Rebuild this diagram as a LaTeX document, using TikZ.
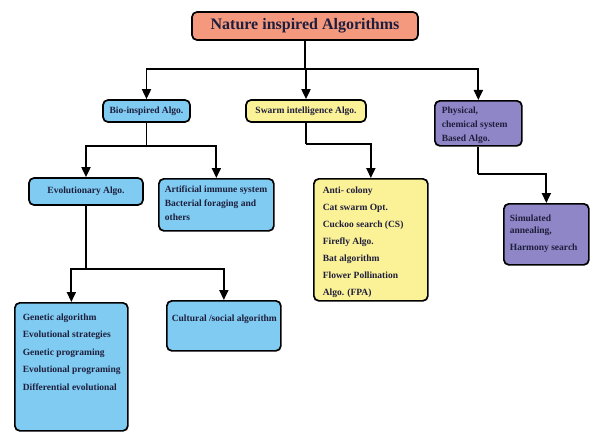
\documentclass[tikz,border=0pt]{standalone}
\usepackage{fontspec}
\setmainfont{Liberation Serif}
\usetikzlibrary{arrows.meta}
\definecolor{csalmon}{HTML}{F5997E}
\definecolor{cblue}{HTML}{7FCBF1}
\definecolor{cyellow}{HTML}{FBF197}
\definecolor{cpurple}{HTML}{8E86C6}
\definecolor{ctext}{HTML}{1E1E3C}
% #1 width, #2 height, #3 top gap, #4 left pad, #5 baselineskip, #6 text
\newcommand\lbox[6]{\begin{minipage}[c][#2pt][t]{#1pt}\fontsize{9.5}{#5}\selectfont\raggedright\leftskip=#4pt\relax\vspace*{#3pt}#6\end{minipage}}
\tikzset{
  box/.style={draw=black, line width=1.7pt, rounded corners=5pt, inner sep=0pt, text=ctext, font=\bfseries},
  cbox/.style={box, anchor=center, font=\bfseries\fontsize{9.5}{11}\selectfont},
  lbx/.style={box, anchor=north west},
  conn/.style={draw=black, line width=1.8pt},
  arr/.style={conn, -{Triangle[length=10pt,width=9pt]}}
}
\begin{document}
\begin{tikzpicture}[x=1pt,y=-1pt]
\useasboundingbox (0,0) rectangle (593,433);
\node[box, fill=csalmon, minimum width=226pt, minimum height=28pt, font=\bfseries\fontsize{16}{18}\selectfont] (top) at (305,26) {Nature inspired Algorithms};
\node[cbox, fill=cblue, minimum width=87pt, minimum height=22pt] (bio) at (146.5,111) {Bio-inspired Algo.};
\node[cbox, fill=cyellow, minimum width=120pt, minimum height=22pt] (swarm) at (306,111) {Swarm intelligence Algo.};
\node[lbx, fill=cpurple] (phys) at (434,100) {\lbox{87}{45}{6}{7}{14}{Physical,\\chemical system\\Based Algo.}};
\node[cbox, fill=cblue, minimum width=114pt, minimum height=27pt] (evo) at (86,191.5) {Evolutionary Algo.};
\node[lbx, fill=cblue] (ais) at (158,178) {\lbox{115}{52}{7}{6}{14}{Artificial immune system\\Bacterial foraging and\\others}};
\node[lbx, fill=cyellow] (slist) at (313,178) {\lbox{114}{122}{8}{9}{17}{Anti- colony\\Cat swarm Opt.\\Cuckoo search (CS)\\Firefly Algo.\\Bat algorithm\\Flower Pollination\\Algo. (FPA)}};
\node[lbx, fill=cpurple] (sim) at (503,203) {\lbox{85}{61}{11}{6}{12}{Simulated\\annealing,\\[5pt]Harmony search}};
\node[lbx, fill=cblue] (gen) at (14,302) {\lbox{113}{128}{11}{8}{17.5}{Genetic algorithm\\Evolutional strategies\\Genetic programing\\Evolutional programing\\Differential evolutional}};
\node[lbx, fill=cblue] (cult) at (166,300) {\lbox{114}{50}{14}{5}{14}{Cultural /social algorithm}};
% connectors
\draw[conn] (top.south) -- ++(0,28) coordinate (jA);
\draw[arr] (jA) -| (bio.north);
\draw[arr] (jA) -| (swarm.north);
\draw[arr] (jA) -| (phys.north);
\draw[conn] (bio.south) -- ++(0,23) coordinate (jB);
\draw[arr] (jB) -| (evo.north);
\draw[arr] (jB) -| (ais.north);
\draw[conn] (swarm.south) -- ++(0,21) coordinate (jC);
\draw[arr] (jC) -| (slist.north);
\draw[conn] (phys.south) -- ++(0,27) coordinate (jD);
\draw[arr] (jD) -| (sim.north);
\draw[conn] (evo.south) -- ++(0,63) coordinate (jE);
\draw[arr] (jE) -| (gen.north);
\draw[arr] (jE) -| (cult.north);
\end{tikzpicture}
\end{document}
